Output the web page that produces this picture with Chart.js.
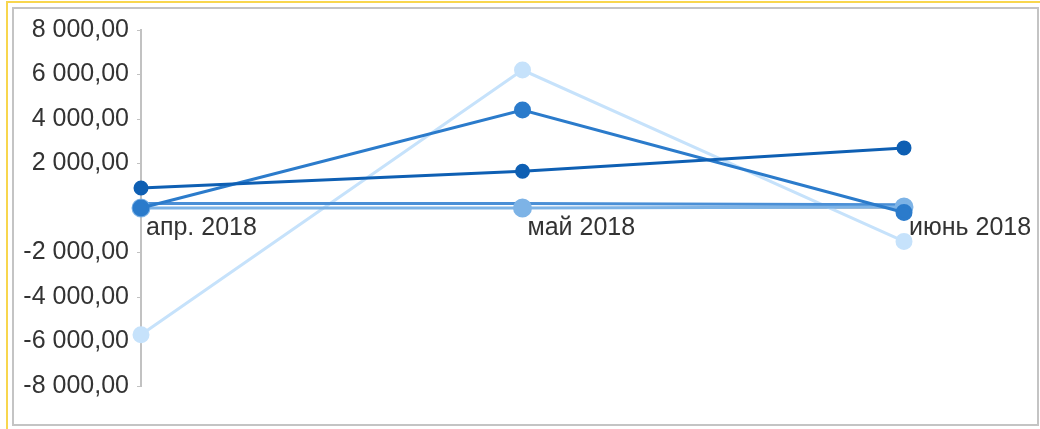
<!DOCTYPE html>
<html>
<head>
<meta charset="utf-8">
<script src="https://cdn.jsdelivr.net/npm/chart.js@4"></script>
<style>
    body { margin: 0; background: #fff; }
    .frame-outer {
        position: absolute; left: 6px; top: 1px; width: 1040px; height: 440px;
        border: 2px solid #f8d64e; box-sizing: border-box;
    }
    .frame-inner {
        position: absolute; left: 12px; top: 7px; width: 1027px; height: 419px;
        border: 2px solid #c4c4c4; box-sizing: border-box; background: #fff;
    }
    canvas { display: block; }
</style>
</head>
<body>
<div class="frame-outer"></div>
<div class="frame-inner">
    <canvas id="chart" width="1023" height="415"></canvas>
</div>
<script>
// Categories and series values
const months = ['апр. 2018', 'май 2018', 'июнь 2018'];
const seriesA = [900, 1650, 2700];
const seriesB = [0, 4400, -200];
const seriesC = [-5700, 6200, -1500];
const seriesD = [200, 200, 150];
const seriesE = [0, 0, 50];

const yTicks = [-8000, -6000, -4000, -2000, 0, 2000, 4000, 6000, 8000];

// "8 000,00" style
function formatRu(v) {
    const sign = v < 0 ? '-' : '';
    const s = Math.abs(v).toFixed(0).replace(/\B(?=(\d{3})+(?!\d))/g, ' ');
    return sign + s + ',00';
}

function ds(data, color, radius, width) {
    return {
        data: data,
        borderColor: color,
        backgroundColor: color,
        pointBackgroundColor: color,
        pointBorderColor: color,
        pointRadius: radius,
        pointHoverRadius: radius,
        borderWidth: width,
        tension: 0,
        clip: false
    };
}

const labelFont = { family: 'Liberation Sans, Arial', size: 25 };

const ctx = document.getElementById('chart').getContext('2d');
const chart = new Chart(ctx, {
    type: 'line',
    data: {
        labels: months,
        datasets: [
            ds(seriesA, '#0e5fb3', 6, 3),
            ds(seriesB, '#2b7bcb', 7, 3),
            ds(seriesE, '#7db3e6', 8, 3),
            ds(seriesD, '#4a8fd6', 0, 3),
            ds(seriesC, '#c6e2fb', 7, 3)
        ]
    },
    options: {
        responsive: false,
        animation: false,
        layout: { padding: { top: 21, left: 0, right: 133, bottom: 38 } },
        plugins: {
            legend: { display: false },
            tooltip: { enabled: false }
        },
        scales: {
            x: {
                position: { y: 0 },
                offset: false,
                grid: { display: false },
                border: { display: true, color: '#c2c2c2', width: 2 },
                afterFit: function (axis) {
                    axis.paddingLeft = 0;
                    axis.paddingRight = 0;
                },
                ticks: {
                    align: 'start',
                    labelOffset: 5,
                    padding: -3,
                    color: '#333',
                    font: labelFont,
                    maxRotation: 0,
                    autoSkip: false
                }
            },
            y: {
                min: -8000,
                max: 8000,
                afterBuildTicks: function (axis) {
                    axis.ticks = yTicks.map(v => ({ value: v }));
                },
                afterFit: function (axis) {
                    axis.width = 127;
                    axis.paddingTop = 0;
                    axis.paddingBottom = 0;
                },
                grid: {
                    drawOnChartArea: false,
                    drawTicks: true,
                    tickLength: 4,
                    color: '#c2c2c2'
                },
                border: { display: true, color: '#c2c2c2', width: 2 },
                ticks: {
                    padding: 8,
                    color: '#333',
                    font: labelFont,
                    callback: function (value) {
                        return value === 0 ? '' : formatRu(value);
                    }
                }
            }
        }
    }
});
</script>
</body>
</html>
